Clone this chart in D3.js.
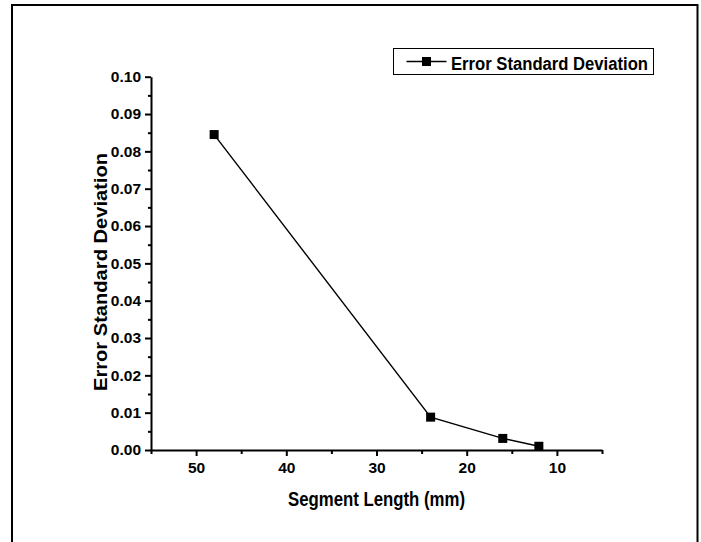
<!DOCTYPE html>
<html>
<head>
<meta charset="utf-8">
<script src="https://cdn.jsdelivr.net/npm/d3@7"></script>
<style>
  body { margin: 0; background: #fff; }
  svg { display: block; }
  .axis text { font-family: "Liberation Sans", Arial, sans-serif; font-weight: bold; font-size: 15.5px; fill: #000; }
  .axis path, .axis line { stroke: #000; stroke-width: 2px; }
</style>
</head>
<body>
<svg id="chart" width="701" height="542"></svg>
<script>
// data
var segLength = [48, 24, 16, 12];
var errStd = [0.0845, 0.0088, 0.0031, 0.0010];
var seriesName = "Error Standard Deviation";

var yTicks = [0, 0.01, 0.02, 0.03, 0.04, 0.05, 0.06, 0.07, 0.08, 0.09, 0.10];
var yMinor = [0.005, 0.015, 0.025, 0.035, 0.045, 0.055, 0.065, 0.075, 0.085, 0.095];
var xTicks = [50, 40, 30, 20, 10];
var xMinor = [55, 45, 35, 25, 15, 5];

var svg = d3.select("#chart");
var font = '"Liberation Sans", Arial, sans-serif';

// outer frame (bottom is cut off in the original)
svg.append("path")
  .attr("d", "M12,545 V5 H697.5 V545")
  .attr("fill", "none")
  .attr("stroke", "#000")
  .attr("stroke-width", 2);

var x = d3.scaleLinear().domain([55, 5]).range([151, 602]);
var y = d3.scaleLinear().domain([0, 0.1]).range([450, 76.7]);

// y axis
svg.append("g")
  .attr("class", "axis")
  .attr("transform", "translate(" + x(55) + ",0)")
  .call(d3.axisLeft(y).tickValues(yTicks).tickSize(6).tickSizeOuter(0).tickPadding(4).tickFormat(d3.format(".2f")));
svg.append("g")
  .attr("class", "axis")
  .attr("transform", "translate(" + x(55) + ",0)")
  .call(d3.axisLeft(y).tickValues(yMinor).tickSize(3).tickSizeOuter(0).tickFormat(""))
  .select(".domain").remove();

// x axis
svg.append("g")
  .attr("class", "axis")
  .attr("transform", "translate(0," + y(0) + ")")
  .call(d3.axisBottom(x).tickValues(xTicks).tickSize(6).tickSizeOuter(0).tickPadding(6).tickFormat(d3.format("d")));
svg.append("g")
  .attr("class", "axis")
  .attr("transform", "translate(0," + y(0) + ")")
  .call(d3.axisBottom(x).tickValues(xMinor).tickSize(4).tickSizeOuter(0).tickFormat(""))
  .select(".domain").remove();

// axis titles
svg.append("text")
  .attr("x", (x(55) + x(5)) / 2)
  .attr("y", 506)
  .attr("text-anchor", "middle")
  .attr("font-family", font)
  .attr("font-weight", "bold")
  .attr("font-size", 20)
  .attr("textLength", 177)
  .attr("lengthAdjust", "spacingAndGlyphs")
  .text("Segment Length (mm)");

svg.append("text")
  .attr("transform", "translate(107,272) scale(0.88,1) rotate(-90)")
  .attr("text-anchor", "middle")
  .attr("font-family", font)
  .attr("font-weight", "bold")
  .attr("font-size", 20)
  .attr("textLength", 238)
  .attr("lengthAdjust", "spacingAndGlyphs")
  .text(seriesName);

// series
var pts = segLength.map(function(d, i) { return { x: d, y: errStd[i] }; });
var line = d3.line().x(function(d) { return x(d.x); }).y(function(d) { return y(d.y); });

svg.append("path")
  .datum(pts)
  .attr("d", line)
  .attr("fill", "none")
  .attr("stroke", "#000")
  .attr("stroke-width", 1.4);

var ms = 9;
svg.selectAll("rect.pt")
  .data(pts)
  .enter().append("rect")
  .attr("class", "pt")
  .attr("x", function(d) { return x(d.x) - ms / 2; })
  .attr("y", function(d) { return y(d.y) - ms / 2; })
  .attr("width", ms)
  .attr("height", ms)
  .attr("fill", "#000");

// legend
var lg = svg.append("g").attr("transform", "translate(393.5,48.5)");
lg.append("rect")
  .attr("width", 260)
  .attr("height", 26)
  .attr("fill", "#fff")
  .attr("stroke", "#000")
  .attr("stroke-width", 1);
lg.append("line")
  .attr("x1", 13).attr("x2", 53)
  .attr("y1", 13).attr("y2", 13)
  .attr("stroke", "#000")
  .attr("stroke-width", 1.4);
lg.append("rect")
  .attr("x", 33 - ms / 2).attr("y", 13 - ms / 2)
  .attr("width", ms).attr("height", ms)
  .attr("fill", "#000");
lg.append("text")
  .attr("x", 57.5)
  .attr("y", 21)
  .attr("font-family", font)
  .attr("font-weight", "bold")
  .attr("font-size", 18)
  .attr("textLength", 197)
  .attr("lengthAdjust", "spacingAndGlyphs")
  .text(seriesName);
</script>
</body>
</html>
